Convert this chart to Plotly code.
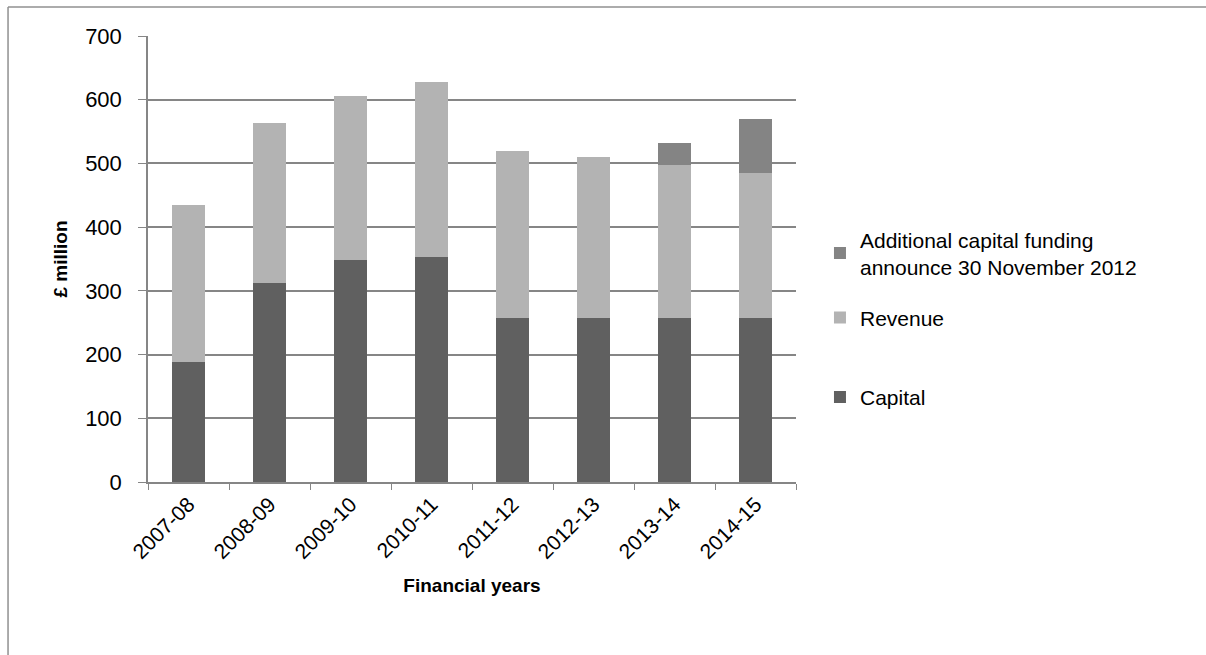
import plotly.graph_objects as go

years = ["2007-08", "2008-09", "2009-10", "2010-11", "2011-12", "2012-13", "2013-14", "2014-15"]
capital = [188, 312, 348, 353, 258, 258, 258, 258]
revenue = [247, 251, 258, 275, 262, 252, 240, 227]
additional = [0, 0, 0, 0, 0, 0, 34, 84]

FONT = "Liberation Sans"
GRID = "#868686"

fig = go.Figure()
fig.add_trace(go.Bar(x=years, y=capital, name="Capital", marker=dict(color="#606060", line=dict(width=0)),
                     legend="legend3"))
fig.add_trace(go.Bar(x=years, y=revenue, name="Revenue", marker=dict(color="#b3b3b3", line=dict(width=0)),
                     legend="legend2"))
fig.add_trace(go.Bar(x=years, y=additional, name="Additional capital funding<br>announce 30 November 2012",
                     marker=dict(color="#848484", line=dict(width=0)), legend="legend"))

leg = dict(xanchor="left", yanchor="middle", font=dict(family=FONT, size=21, color="black"),
           itemwidth=30, bgcolor="rgba(0,0,0,0)")

fig.update_layout(
    barmode="stack",
    bargap=0.6,
    width=1206, height=655,
    margin=dict(l=148, r=410, t=36, b=173),
    paper_bgcolor="white", plot_bgcolor="white",
    font=dict(family=FONT, size=21, color="black"),
    showlegend=True,
    legend=dict(x=1.037, y=0.513, **leg),
    legend2=dict(x=1.037, y=0.368, **leg),
    legend3=dict(x=1.037, y=0.19, **leg),
    xaxis=dict(
        type="category",
        title=dict(text="<b>Financial years</b>", font=dict(family=FONT, size=19), standoff=16),
        tickangle=-45, ticks="outside", tickson="boundaries", ticklen=6, tickcolor=GRID,
        showline=True, linecolor=GRID, linewidth=1.5, showgrid=False,
        tickfont=dict(family=FONT, size=21),
    ),
    yaxis=dict(
        title=dict(text="<b>£ million</b>", font=dict(family=FONT, size=19), standoff=12),
        range=[0, 700], dtick=100, ticks="outside", ticklen=8, tickcolor=GRID,
        ticklabelstandoff=12,
        showline=True, linecolor=GRID, linewidth=1.5,
        showgrid=True, gridcolor=GRID, gridwidth=1.5, zeroline=False,
        tickfont=dict(family=FONT, size=22),
    ),
    shapes=[
        dict(type="line", xref="paper", yref="paper", x0=-0.216, x1=-0.216, y0=1.065, y1=-0.5,
             line=dict(color="#909090", width=1.5)),
        dict(type="line", xref="paper", yref="paper", x0=-0.216, x1=1.7, y0=1.065, y1=1.065,
             line=dict(color="#909090", width=1.5)),
    ],
)

fig.write_html("out.html")
